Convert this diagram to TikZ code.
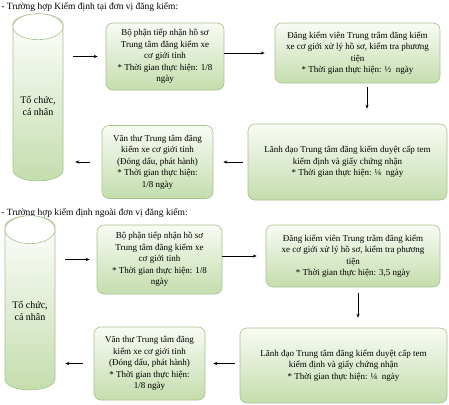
\documentclass[tikz,border=0pt]{standalone}
\usepackage{fontspec}
\setmainfont{Liberation Serif}
\usetikzlibrary{arrows.meta, positioning, shapes.geometric, calc}
\definecolor{boxgreen}{HTML}{C4DDAD}
\definecolor{boxtop}{HTML}{F8FBF4}
\definecolor{boxline}{HTML}{A6C28C}

\begin{document}
\begin{tikzpicture}[
    x=1pt, y=-1pt,
    box/.style={draw=boxline, rounded corners=7pt, top color=boxtop,
                bottom color=boxgreen, align=center, inner sep=2pt,
                font=\fontsize{9}{11.5}\selectfont},
    cyl/.style={cylinder, shape border rotate=90, aspect=0.5, draw=boxline,
                top color=white, bottom color=boxgreen, align=center,
                minimum width=50pt, font=\fontsize{10}{12}\selectfont},
    head/.style={anchor=west, inner sep=0pt, font=\fontsize{9.5}{11}\selectfont},
    >={Stealth[length=4pt, width=3.2pt]}, line width=0.6pt
  ]
    \useasboundingbox (0,0) rectangle (449,404);

    % case 1: at the inspection unit
    \node[head] (headA) at (1,7) {- Trường hợp Kiểm định tại đơn vị đăng kiểm:};
    \node[cyl, minimum height=167pt] (cylA) at (38,105.5) {Tổ chức,\\cá nhân};
    \draw[draw=boxline, fill=white] ($(cylA.top)+(0,13)$) ellipse [x radius=25, y radius=13];
    \node[box, minimum width=118pt, minimum height=67pt] (rcvA) at (165,56.5)
      {Bộ phận tiếp nhận hồ sơ\\Trung tâm đăng kiểm xe\\cơ giới tỉnh\\* Thời gian thực hiện: 1/8\\ngày};
    \node[box, minimum width=165pt, minimum height=60pt] (inspA) at (357.5,53)
      {Đăng kiểm viên Trung trâm đăng kiểm\\xe cơ giới xử lý hồ sơ, kiểm tra phương\\tiện\\* Thời gian thực hiện: ½~ ngày};
    \node[box, minimum width=199pt, minimum height=76pt] (leadA) at (347.5,162)
      {Lãnh đạo Trung tâm đăng kiểm duyệt cấp tem\\kiểm định và giấy chứng nhận\\* Thời gian thực hiện: ¼~ ngày};
    \node[box, minimum width=111pt, minimum height=73pt] (clerkA) at (157.5,162)
      {Văn thư Trung tâm đăng\\kiểm xe cơ giới tỉnh\\(Đóng dấu, phát hành)\\* Thời gian thực hiện:\\1/8 ngày};

    \draw[->, shorten <=10pt, shorten >=8pt] (rcvA.west -| cylA.east) -- (rcvA.west);
    \draw[->, shorten >=10pt] (rcvA.east |- inspA.west) -- (inspA.west);
    \draw[->, shorten <=4pt, shorten >=15pt] ([xshift=9.5pt]inspA.south) -- ([xshift=9.5pt]inspA.south |- leadA.north);
    \draw[->, shorten <=5pt, shorten >=10pt] (leadA.west |- clerkA.east) -- (clerkA.east);
    \draw[->, shorten <=12pt, shorten >=12pt] (clerkA.west) -- (clerkA.west -| cylA.east);

    % case 2: outside the inspection unit
    \node[head] (headB) at (1,213) {- Trường hợp kiểm định ngoài đơn vị đăng kiểm:};
    \node[cyl, minimum height=174pt] (cylB) at (30,311) {Tổ chức,\\cá nhân};
    \draw[draw=boxline, fill=white] ($(cylB.top)+(0,14)$) ellipse [x radius=25, y radius=14];
    \node[box, minimum width=125pt, minimum height=69pt] (rcvB) at (159.5,259.5)
      {Bộ phận tiếp nhận hồ sơ\\Trung tâm đăng kiểm xe\\cơ giới tỉnh\\* Thời gian thực hiện: 1/8\\ngày};
    \node[box, minimum width=174pt, minimum height=62pt] (inspB) at (353,256)
      {Đăng kiểm viên Trung trâm đăng kiểm\\xe cơ giới xử lý hồ sơ, kiểm tra phương\\tiện\\* Thời gian thực hiện: 3,5 ngày};
    \node[box, minimum width=207pt, minimum height=75pt] (leadB) at (343.5,365.5)
      {Lãnh đạo Trung tâm đăng kiểm duyệt cấp tem\\kiểm định và giấy chứng nhận\\* Thời gian thực hiện: ¼~ ngày};
    \node[box, minimum width=111pt, minimum height=73pt] (clerkB) at (149.5,363.5)
      {Văn thư Trung tâm đăng\\kiểm xe cơ giới tỉnh\\(Đóng dấu, phát hành)\\* Thời gian thực hiện:\\1/8 ngày};

    \draw[->, shorten <=10pt, shorten >=7pt] (rcvB.west -| cylB.east) -- (rcvB.west);
    \draw[->, shorten >=9pt] (rcvB.east |- inspB.west) -- (inspB.west);
    \draw[->, shorten <=6pt, shorten >=10pt] ([xshift=5pt]inspB.south) -- ([xshift=5pt]inspB.south |- leadB.north);
    \draw[->, shorten <=5pt, shorten >=8pt] (leadB.west |- clerkB.east) -- (clerkB.east);
    \draw[->, shorten <=11pt, shorten >=10pt] (clerkB.west) -- (clerkB.west -| cylB.east);
  \end{tikzpicture}
\end{document}
